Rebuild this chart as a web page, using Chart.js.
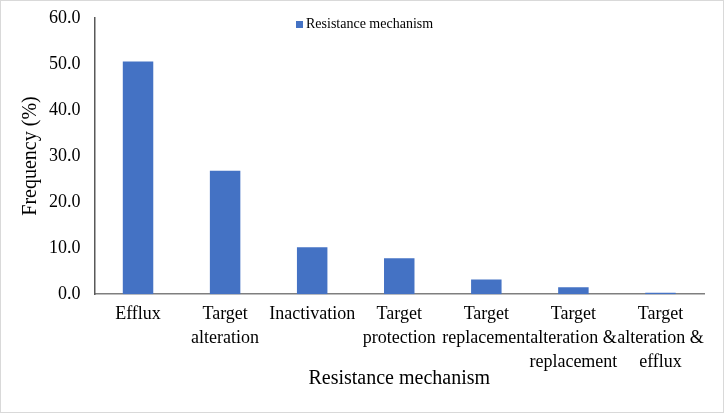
<!DOCTYPE html>
<html lang="en">
<head>
    <meta charset="UTF-8">
    <title>index</title>
    <script src="https://cdn.jsdelivr.net/npm/chart.js@4/dist/chart.umd.min.js"></script>
    <style>
        body {
            margin: 0;
            background: #fff;
        }

        .chart-container {
            position: relative;
            width: 722px;
            height: 411px;
            border: 1px solid #d9d9d9;
        }

        .legend {
            position: absolute;
            left: 295px;
            top: 15px;
            font-family: "Liberation Serif", serif;
            font-size: 14px;
            color: #000;
        }

        .legend span {
            display: inline-block;
            width: 7px;
            height: 7px;
            background: #4472c4;
            margin-right: 3px;
        }
    </style>
</head>
<body>

<div class="chart-container">
    <canvas id="canvas"></canvas>
    <div class="legend"><span></span>Resistance mechanism</div>
</div>

<script>
    var mechanisms = [
        "Efflux",
        ["Target", "alteration"],
        "Inactivation",
        ["Target", "protection"],
        ["Target", "replacement"],
        ["Target", "alteration &", "replacement"],
        ["Target", "alteration &", "efflux"]
    ];
    var frequency = [50.5, 26.8, 10.2, 7.8, 3.2, 1.5, 0.3];

    var serif = "'Liberation Serif', 'Times New Roman', serif";

    window.onload = function () {
        var ctx = document.getElementById("canvas").getContext("2d");
        window.myBar = new Chart(ctx, {
            type: 'bar',
            data: {
                labels: mechanisms,
                datasets: [{
                    label: 'Resistance mechanism',
                    backgroundColor: '#4472c4',
                    data: frequency,
                    categoryPercentage: 1,
                    barPercentage: 0.35
                }]
            },
            options: {
                responsive: true,
                maintainAspectRatio: false,
                animation: false,
                layout: {
                    padding: {top: -7, right: 19, left: 18, bottom: 21}
                },
                plugins: {
                    legend: {display: false},
                    tooltip: {enabled: false}
                },
                scales: {
                    x: {
                        grid: {display: false},
                        border: {color: '#7f7f7f', width: 1.5},
                        ticks: {
                            color: '#000',
                            maxRotation: 0,
                            autoSkip: false,
                            padding: 0,
                            font: {family: serif, size: 18, lineHeight: 1.33}
                        },
                        title: {
                            display: true,
                            text: 'Resistance mechanism',
                            color: '#000',
                            font: {family: serif, size: 20},
                            padding: {top: -7, bottom: 0}
                        }
                    },
                    y: {
                        min: 0,
                        max: 60,
                        grid: {display: false},
                        border: {color: '#595959', width: 1.5},
                        ticks: {
                            stepSize: 10,
                            color: '#000',
                            padding: 6,
                            font: {family: serif, size: 18},
                            callback: function (v) {
                                return v.toFixed(1);
                            }
                        },
                        title: {
                            display: true,
                            text: 'Frequency (%)',
                            color: '#000',
                            font: {family: serif, size: 20},
                            padding: {top: 0, bottom: 0}
                        }
                    }
                }
            }
        });
    };
</script>
</body>
</html>
